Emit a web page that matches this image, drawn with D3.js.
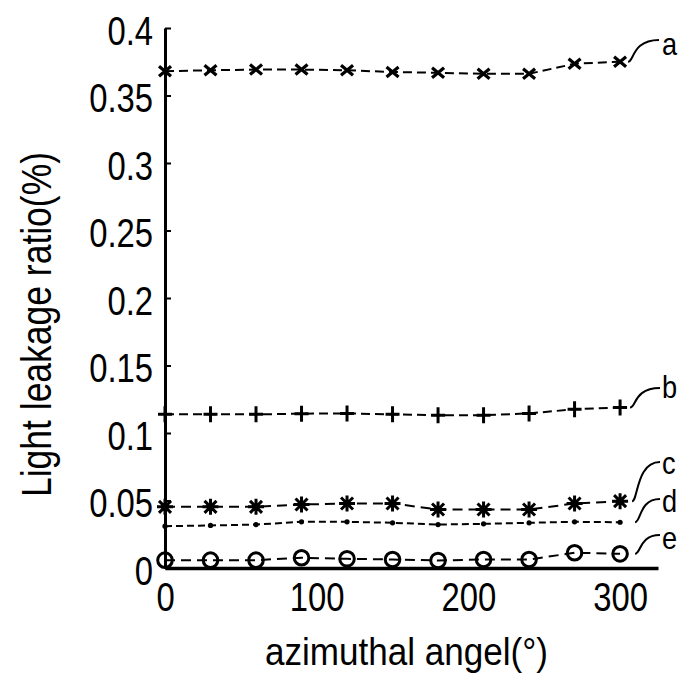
<!DOCTYPE html>
<html><head><meta charset="utf-8">
<script src="https://cdn.jsdelivr.net/npm/d3@7"></script>
<style>
html,body{margin:0;padding:0;background:#fff;}
svg text{font-family:"Liberation Sans",Arial,sans-serif;fill:#000;}
</style></head>
<body><svg id="c" width="683" height="681"></svg>
<script>
// ---- data ----
const angles = [0, 30, 60, 90, 120, 150, 180, 210, 240, 270, 300];
const seriesA = [0.368, 0.3687, 0.3692, 0.3692, 0.3687, 0.3674, 0.3668, 0.3661, 0.3661, 0.3735, 0.375];
const seriesB = [0.1138, 0.1138, 0.1138, 0.1143, 0.1145, 0.1138, 0.1132, 0.1132, 0.1145, 0.1176, 0.1189];
const seriesC = [0.0453, 0.0453, 0.0453, 0.047, 0.0478, 0.0478, 0.0433, 0.0433, 0.0433, 0.0478, 0.0495];
const seriesD = [0.031, 0.0315, 0.0322, 0.0342, 0.0342, 0.0335, 0.0322, 0.0327, 0.0335, 0.0342, 0.0339];
const seriesE = [0.0058, 0.0058, 0.0058, 0.0076, 0.0068, 0.0063, 0.0056, 0.0063, 0.0063, 0.0113, 0.0105];
const seriesNames = ["a", "b", "c", "d", "e"];
const xTicks = [0, 100, 200, 300];
const yTicks = [0, 0.05, 0.1, 0.15, 0.2, 0.25, 0.3, 0.35, 0.4];
const yTickLabels = ["0", "0.05", "0.1", "0.15", "0.2", "0.25", "0.3", "0.35", "0.4"];
const xTitle = "azimuthal angel(°)";
const yTitle = "Light leakage ratio(%)";

const svg = d3.select("#c");
const x = d3.scaleLinear().domain([0, 325]).range([165, 658]);
const y = d3.scaleLinear().domain([0, 0.4]).range([568, 28]);

function condense(sel, f) {
  sel.each(function () {
    const w = this.getComputedTextLength();
    d3.select(this).attr("textLength", w * f).attr("lengthAdjust", "spacingAndGlyphs");
  });
}

// y axis
const yAxis = d3.axisLeft(y).tickValues(yTicks)
  .tickFormat((d, i) => yTickLabels[i]).tickSize(-6).tickSizeOuter(0).tickPadding(12);
const gy = svg.append("g").attr("transform", `translate(${x(0)},0)`).call(yAxis);
gy.select(".domain").attr("stroke", "#000").attr("stroke-width", 3);
gy.selectAll(".tick line").attr("stroke", "#000").attr("stroke-width", 2);
gy.selectAll(".tick text").attr("font-size", 40).attr("dy", "0.4em")
  .style("font-family", '"Liberation Sans",Arial,sans-serif');
condense(gy.selectAll(".tick text"), 0.82);

// x axis
const xAxis = d3.axisBottom(x).tickValues(xTicks).tickFormat(d3.format("d"))
  .tickSize(0).tickSizeOuter(0).tickPadding(15);
const gx = svg.append("g").attr("transform", `translate(0,${y(0)})`).call(xAxis);
gx.select(".domain").attr("stroke", "#000").attr("stroke-width", 3.5);
gx.selectAll(".tick text").attr("font-size", 40)
  .style("font-family", '"Liberation Sans",Arial,sans-serif');
condense(gx.selectAll(".tick text"), 0.82);

// titles
svg.append("text").attr("x", 265).attr("y", 665).attr("font-size", 38)
  .attr("textLength", 283).attr("lengthAdjust", "spacingAndGlyphs").text(xTitle);
svg.append("text").attr("transform", "translate(51,497) rotate(-90)")
  .attr("font-size", 42).attr("textLength", 345).attr("lengthAdjust", "spacingAndGlyphs").text(yTitle);

// series
const allSeries = [seriesA, seriesB, seriesC, seriesD, seriesE];
const dashes = ["9,5", "9,5", "10,6", "7,4", "10,6"];
const line = d3.line().x((d, i) => x(angles[i])).y(d => y(d));
const plot = svg.append("g");
allSeries.forEach((s, k) => {
  plot.append("path").attr("d", line(s)).attr("fill", "none").attr("stroke", "#000")
    .attr("stroke-width", 2).attr("stroke-dasharray", dashes[k]);
});

function marker(g, k) {
  const p = (d, w) => g.append("path").attr("d", d).attr("stroke", "#000")
    .attr("stroke-width", w).attr("fill", "none");
  if (k === 0) { p("M-6,-5L6,5M-6,5L6,-5", 3.2); }
  else if (k === 1) { p("M-7,0L7,0M0,-8L0,8", 3); }
  else if (k === 2) { p("M-8,0L8,0M0,-8L0,8M-6,-6L6,6M-6,6L6,-6", 3); }
  else if (k === 3) { g.append("circle").attr("r", 2.6).attr("fill", "#000"); }
  else { g.append("circle").attr("r", 7.3).attr("fill", "none").attr("stroke", "#000").attr("stroke-width", 3); }
}
allSeries.forEach((s, k) => {
  s.forEach((v, i) => {
    const g = plot.append("g").attr("transform", `translate(${x(angles[i])},${y(v)})`);
    marker(g, k);
  });
});

// leader lines + labels (layout: start offset, end point, label position)
const leaderLayout = [
  {dx: 8, ex: 659, ey: 40, ly: 44},
  {dx: 10, ex: 660, ey: 388, ly: 387},
  {dx: 12, ex: 660, ey: 462, ly: 463},
  {dx: 15, ex: 660, ey: 499, ly: 501},
  {dx: 15, ex: 660, ey: 535, ly: 538}
];
allSeries.forEach((s, k) => {
  const L = leaderLayout[k];
  const sx = x(angles[angles.length - 1]) + L.dx, sy = y(s[s.length - 1]);
  const mx = sx + 6;
  plot.append("path")
    .attr("d", `M${sx},${sy} C${mx},${sy} ${mx - 2},${L.ey} ${L.ex},${L.ey}`)
    .attr("fill", "none").attr("stroke", "#000").attr("stroke-width", 2);
  const t = svg.append("text").attr("x", 662).attr("y", L.ly).attr("dy", "0.35em")
    .attr("font-size", 32).text(seriesNames[k]);
  condense(t, 0.85);
});
</script></body></html>
